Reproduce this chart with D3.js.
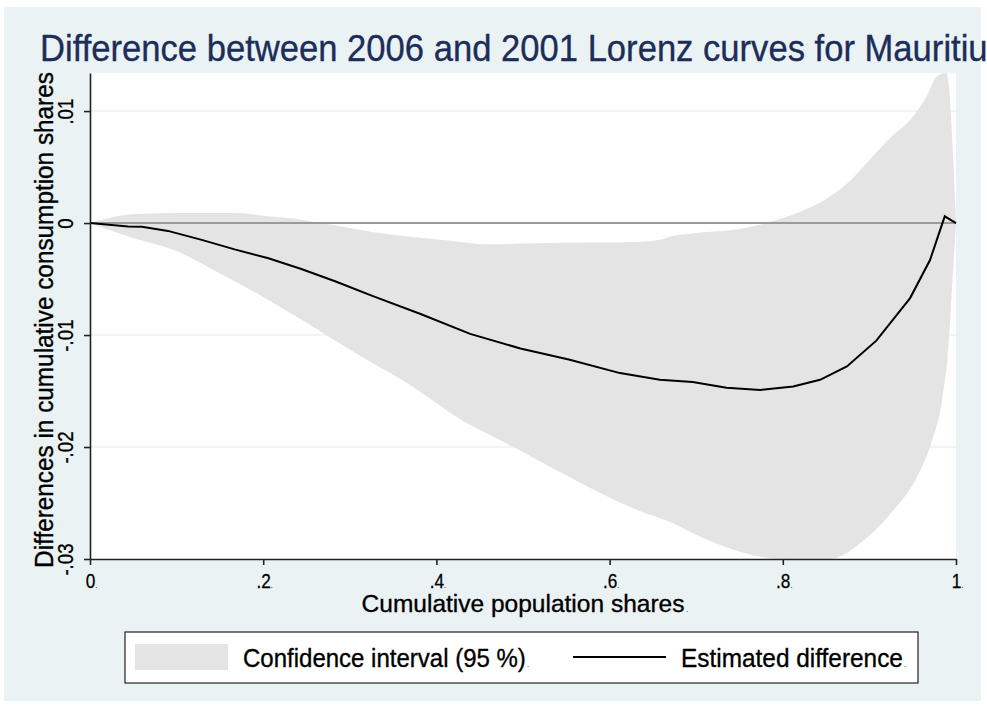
<!DOCTYPE html>
<html>
<head>
<meta charset="utf-8">
<script src="https://cdn.jsdelivr.net/npm/d3@7"></script>
<style>
  html, body { margin: 0; padding: 0; background: #ffffff; }
  svg { display: block; font-family: "Liberation Sans", Arial, sans-serif; }
</style>
</head>
<body>
<svg id="chart" width="987" height="706"></svg>
<script>
// ---- data ----
const titleText = "Difference between 2006 and 2001 Lorenz curves for Mauritius";
const xTitle = "Cumulative population shares";
const yTitle = "Differences in cumulative consumption shares";
const legendLabels = ["Confidence interval (95 %)", "Estimated difference"];

const xTicks = [0, 0.2, 0.4, 0.6, 0.8, 1];
const xTickLabels = ["0", ".2", ".4", ".6", ".8", "1"];
const yTicks = [-0.03, -0.02, -0.01, 0, 0.01];
const yTickLabels = ["-.03", "-.02", "-.01", "0", ".01"];

// estimated difference
const estX = [0, 0.044, 0.06, 0.09, 0.129, 0.167, 0.206, 0.244, 0.283, 0.326, 0.381, 0.439, 0.497, 0.554, 0.612, 0.658, 0.696, 0.735, 0.774, 0.812, 0.843, 0.874, 0.908, 0.947, 0.970, 0.987, 1.0];
const estY = [0, -0.0003, -0.00033, -0.0007, -0.0015, -0.00235, -0.00315, -0.0041, -0.0052, -0.0065, -0.0081, -0.0099, -0.0112, -0.0122, -0.0134, -0.0140, -0.0142, -0.0147, -0.0149, -0.0146, -0.0140, -0.0128, -0.0105, -0.0067, -0.0033, 0.0006, 0];

// upper confidence bound
const hiX = [0, 0.014, 0.032, 0.052, 0.1, 0.168, 0.206, 0.244, 0.283, 0.326, 0.419, 0.458, 0.516, 0.631, 0.658, 0.670, 0.697, 0.743, 0.781, 0.820, 0.851, 0.878, 0.889, 0.928, 0.947, 0.966, 0.978, 0.989, 1.0];
const hiY = [0, 0.0003, 0.0006, 0.0008, 0.0009, 0.0009, 0.0006, 0.0003, -0.0002, -0.0008, -0.0016, -0.0019, -0.0018, -0.0017, -0.0015, -0.0012, -0.0009, -0.0006, 0.0000, 0.0010, 0.0022, 0.0038, 0.0047, 0.0079, 0.0092, 0.0113, 0.0131, 0.0134, 0];

// lower confidence bound
const loX = [0, 0.044, 0.1, 0.15, 0.2, 0.25, 0.3, 0.326, 0.36, 0.393, 0.419, 0.489, 0.554, 0.631, 0.67, 0.704, 0.744, 0.8, 0.854, 0.894, 0.925, 0.956, 0.972, 0.984, 0.991, 0.995, 1.0];
const loY = [0, -0.0012, -0.0025, -0.0045, -0.0066, -0.0089, -0.0113, -0.0125, -0.0140, -0.0157, -0.0171, -0.0200, -0.0227, -0.0256, -0.0267, -0.0280, -0.0292, -0.0300, -0.0300, -0.0283, -0.0259, -0.0225, -0.0195, -0.0158, -0.0113, -0.0063, 0];

// ---- drawing ----
const svg = d3.select("#chart");
const W = 987, H = 706;
const plot = {left: 90, right: 956, top: 73, bottom: 559};
const FONT = "Liberation Sans, Arial, sans-serif";

const x = d3.scaleLinear().domain([0, 1]).range([plot.left, plot.right]);
const y = d3.scaleLinear().domain([-0.03, 0.0134]).range([plot.bottom, plot.top]);

// helper: text fitted horizontally to a target width
function fittedText(parent, str, px, py, fs, targetW, anchor, rotate, fill, measureStr) {
  const g = parent.append("g").attr("transform", `translate(${px},${py})${rotate ? " rotate(-90)" : ""}`);
  const t = g.append("text").attr("font-size", fs).attr("font-family", FONT)
    .attr("fill", fill || "#000").attr("stroke", fill || "#000").attr("stroke-width", 0.35)
    .attr("text-anchor", anchor || "start").text(str);
  let w;
  if (measureStr) {
    const tmp = g.append("text").attr("font-size", fs).attr("font-family", FONT).text(measureStr);
    w = tmp.node().getComputedTextLength();
    tmp.remove();
  } else {
    w = t.node().getComputedTextLength();
  }
  t.attr("transform", `scale(${targetW / w},1)`);
  return t;
}

// outer background
svg.append("rect").attr("x", 0).attr("y", 0).attr("width", W).attr("height", H).attr("fill", "#ffffff");
svg.append("rect").attr("x", 4).attr("y", 7).attr("width", 977).attr("height", 694).attr("fill", "#eaf2f3");

// plot region
svg.append("rect").attr("x", plot.left).attr("y", plot.top)
  .attr("width", plot.right - plot.left).attr("height", plot.bottom - plot.top)
  .attr("fill", "#ffffff");

// grid lines
svg.append("g").selectAll("line").data(yTicks.filter(v => v !== 0 && v !== -0.03)).join("line")
  .attr("x1", plot.left).attr("x2", plot.right)
  .attr("y1", d => y(d)).attr("y2", d => y(d))
  .attr("stroke", "#eaf2f3").attr("stroke-width", 1.5);

// confidence band: smooth upper edge forward, smooth lower edge backward
const smooth = d3.line().x(d => x(d[0])).y(d => y(d[1])).curve(d3.curveMonotoneX);
const upperPath = smooth(hiX.map((v, i) => [v, hiY[i]]));
const lowerPath = smooth(loX.map((v, i) => [v, loY[i]]).reverse());
svg.append("path")
  .attr("d", upperPath + "L" + lowerPath.slice(1) + "Z")
  .attr("fill", "#e4e4e4").attr("stroke", "none");

// zero reference line
svg.append("line").attr("x1", plot.left).attr("x2", plot.right)
  .attr("y1", y(0)).attr("y2", y(0))
  .attr("stroke", "#9a9a9a").attr("stroke-width", 2);

// estimated difference
svg.append("path")
  .attr("d", d3.line().x(d => x(d[0])).y(d => y(d[1]))(estX.map((v, i) => [v, estY[i]])))
  .attr("fill", "none").attr("stroke", "#000000").attr("stroke-width", 2).attr("stroke-linejoin", "miter");

// x axis
const gx = svg.append("g").attr("transform", `translate(0,${plot.bottom})`)
  .call(d3.axisBottom(x).tickValues(xTicks).tickFormat((d, i) => xTickLabels[i]).tickSize(6).tickSizeOuter(0));
gx.select(".domain").attr("stroke", "#222").attr("stroke-width", 1.6);
gx.selectAll(".tick line").attr("stroke", "#222").attr("stroke-width", 1.6);
gx.selectAll(".tick text").attr("font-size", 21).attr("font-family", FONT)
  .attr("fill", "#000").attr("stroke", "#000").attr("stroke-width", 0.3)
  .attr("y", 0).attr("dy", 0)
  .attr("transform", "translate(1,29) scale(0.82,1)")
  .append("tspan").attr("font-size", 9).attr("stroke-width", 0).text(".");

// y axis
const gy = svg.append("g").attr("transform", `translate(${plot.left},0)`)
  .call(d3.axisLeft(y).tickValues(yTicks).tickFormat((d, i) => yTickLabels[i]).tickSize(6).tickSizeOuter(0));
gy.select(".domain").attr("stroke", "#222").attr("stroke-width", 1.6);
gy.selectAll(".tick line").attr("stroke", "#222").attr("stroke-width", 1.6);
gy.selectAll(".tick text").attr("font-size", 22).attr("font-family", FONT)
  .attr("fill", "#000").attr("stroke", "#000").attr("stroke-width", 0.3)
  .attr("transform", "translate(-17,0) rotate(-90) scale(0.85,1)")
  .attr("x", 0).attr("y", 0).attr("dy", 0).attr("text-anchor", "middle");

// title (runs off the right edge as in the reference)
fittedText(svg, titleText, 40, 61, 37, 948, "start", false, "#1c2d5a",
  "Difference between 2006 and 2001 Lorenz curves for Mauritiu");

// axis titles
fittedText(svg, xTitle, 523, 612, 24, 323, "middle", false, "#000");
svg.append("text").attr("x", 686).attr("y", 612).attr("font-size", 8).attr("font-family", FONT).text(".");

fittedText(svg, yTitle, 53, 320, 26, 496, "middle", true, "#000");

// legend
const lg = svg.append("g");
lg.append("rect").attr("x", 125).attr("y", 632).attr("width", 793).attr("height", 51)
  .attr("fill", "#ffffff").attr("stroke", "#222").attr("stroke-width", 1.2);
lg.append("rect").attr("x", 135).attr("y", 644).attr("width", 93).attr("height", 26).attr("fill", "#e4e4e4");
fittedText(lg, legendLabels[0], 243, 667, 26, 283, "start", false, "#000");
lg.append("text").attr("x", 527).attr("y", 667).attr("font-size", 8).attr("font-family", FONT).text(".");
lg.append("line").attr("x1", 573).attr("x2", 666).attr("y1", 657).attr("y2", 657)
  .attr("stroke", "#000").attr("stroke-width", 2);
fittedText(lg, legendLabels[1], 681, 667, 26, 222, "start", false, "#000");
lg.append("text").attr("x", 904).attr("y", 667).attr("font-size", 8).attr("font-family", FONT).text(".");
</script>
</body>
</html>
